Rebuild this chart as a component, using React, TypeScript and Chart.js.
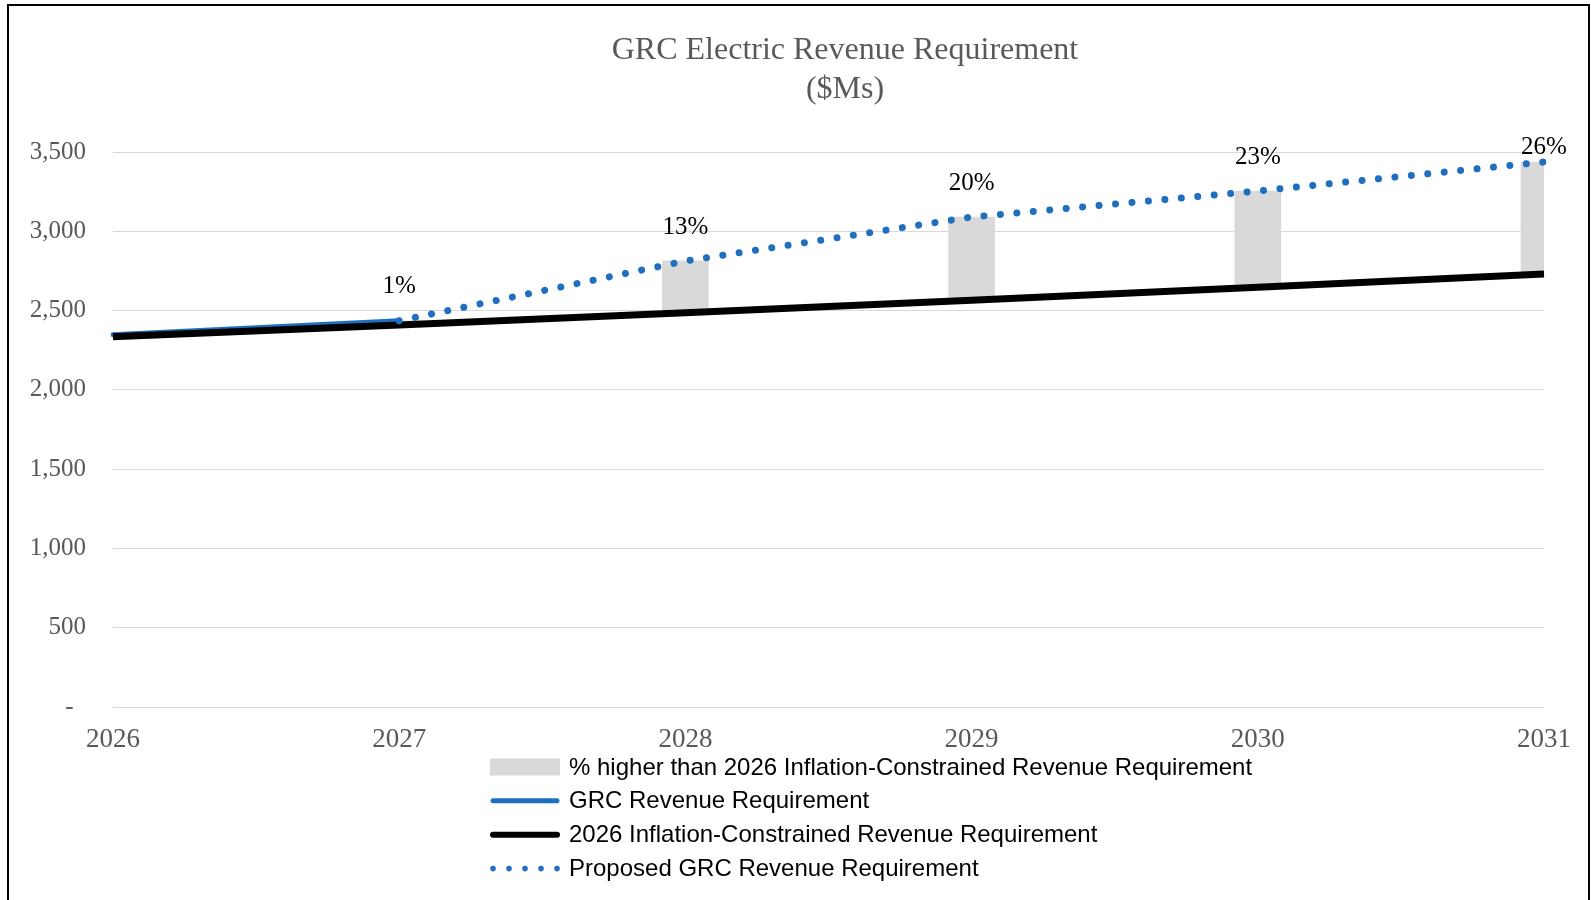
import React, { useEffect, useRef } from "react";
import { Chart, registerables } from "chart.js";

Chart.register(...registerables);

const years = ["2026", "2027", "2028", "2029", "2030", "2031"];
const grcRevenue = [2348, 2436, null, null, null, null];
const inflationConstrained = [2335, 2409, 2486, 2565, 2647, 2731];
const proposedGrc = [null, 2436, 2813, 3090, 3254, 3437];
const pctLabels = ["", "1%", "13%", "20%", "23%", "26%"];
const titleLines = ["GRC Electric Revenue Requirement", "($Ms)"];
const seriesNames = [
  "% higher than 2026 Inflation-Constrained Revenue Requirement",
  "GRC Revenue Requirement",
  "2026 Inflation-Constrained Revenue Requirement",
  "Proposed GRC Revenue Requirement",
];
const yMin = 0;
const yMax = 3500;
const yStep = 500;

const CW = 1579;
const CH = 894;
const SERIF = "'Liberation Serif', 'Times New Roman', serif";
const SANS = "'Liberation Sans', Arial, sans-serif";
const BLUE = "#1F6FC0";
const GRAY_BAR = "#D9D9D9";

const overlayPlugin = {
  id: "overlay",
  afterDatasetsDraw(chart: any) {
    const ctx = chart.ctx;
    const area = chart.chartArea;
    const xs = chart.scales.x;
    const ys = chart.scales.y;
    ctx.save();
    ctx.font = `25px ${SERIF}`;
    ctx.fillStyle = "#000";
    ctx.textAlign = "center";
    ctx.textBaseline = "middle";
    pctLabels.forEach((lab, i) => {
      if (!lab || proposedGrc[i] == null) return;
      const w = ctx.measureText(lab).width;
      let x = xs.getPixelForValue(i);
      x = Math.min(x, chart.width - 4 - w / 2);
      const top = ys.getPixelForValue(proposedGrc[i] as number);
      const y = Math.max(top - 34, area.top - 5);
      ctx.fillText(lab, x, y);
    });
    ctx.restore();
  },
  afterDraw(chart: any) {
    const ctx = chart.ctx;
    ctx.save();
    // Title
    ctx.font = `32px ${SERIF}`;
    ctx.fillStyle = "#595959";
    ctx.textAlign = "center";
    ctx.textBaseline = "middle";
    ctx.fillText(titleLines[0], 836, 45);
    ctx.fillText(titleLines[1], 836, 84);

    // Legend
    const ds = chart.data.datasets;
    const rowY = [761, 794.8, 828.8, 862.6];
    const sx = 481;
    const ex = 551;
    ctx.textAlign = "left";
    ctx.font = `24px ${SANS}`;
    ds.forEach((d: any, i: number) => {
      const cy = rowY[i];
      if (d.type === "bar") {
        ctx.fillStyle = d.backgroundColor;
        ctx.fillRect(sx, cy - 8.5, ex - sx, 17);
      } else if (d.borderDash && d.borderDash.length) {
        ctx.fillStyle = d.borderColor;
        for (let k = 0; k < 5; k++) {
          ctx.beginPath();
          ctx.arc(sx + 3 + k * 16, cy, 2.8, 0, Math.PI * 2);
          ctx.fill();
        }
      } else {
        ctx.strokeStyle = d.borderColor;
        ctx.lineWidth = d.borderColor === "#000000" ? 6 : 5;
        ctx.lineCap = "round";
        ctx.beginPath();
        ctx.moveTo(sx + 3, cy);
        ctx.lineTo(ex - 3, cy);
        ctx.stroke();
      }
      ctx.fillStyle = "#000";
      ctx.fillText(d.label, 560, cy + 1);
    });
    ctx.restore();
  },
};

export default function App() {
  const ref = useRef<HTMLCanvasElement | null>(null);

  useEffect(() => {
    if (!ref.current) return;
    const barData = years.map((_, i) =>
      proposedGrc[i] == null ? null : [inflationConstrained[i], proposedGrc[i] as number]
    );
    const chart = new Chart(ref.current, {
      type: "bar",
      data: {
        labels: years,
        datasets: [
          {
            type: "bar",
            label: seriesNames[0],
            data: barData as any,
            backgroundColor: GRAY_BAR,
            borderWidth: 0,
            barThickness: 46,
            clip: 0,
            order: 10,
          } as any,
          {
            type: "line",
            label: seriesNames[1],
            data: grcRevenue,
            borderColor: BLUE,
            borderWidth: 5,
            borderCapStyle: "round",
            pointRadius: 0,
            tension: 0,
            spanGaps: false,
            order: 3,
          },
          {
            type: "line",
            label: seriesNames[2],
            data: inflationConstrained,
            borderColor: "#000000",
            borderWidth: 7,
            borderCapStyle: "butt",
            pointRadius: 0,
            tension: 0,
            order: 2,
          },
          {
            type: "line",
            label: seriesNames[3],
            data: proposedGrc,
            borderColor: BLUE,
            borderWidth: 7,
            borderDash: [0.01, 16.5],
            borderCapStyle: "round",
            pointRadius: 0,
            tension: 0,
            order: 1,
          },
        ],
      },
      options: {
        responsive: false,
        animation: false,
        devicePixelRatio: 1,
        layout: { padding: { left: 0, top: 146, right: 37, bottom: 0 } },
        plugins: {
          legend: { display: false },
          title: { display: false },
          tooltip: { enabled: false },
        },
        scales: {
          x: {
            type: "category",
            offset: false,
            grid: { display: false, drawTicks: false },
            border: { display: false },
            ticks: {
              font: { family: SERIF, size: 27, lineHeight: 1.2 },
              color: "#595959",
              padding: 17,
              maxRotation: 0,
              autoSkip: false,
            },
            afterFit: (s: any) => {
              s.height = CH - 701;
            },
          },
          y: {
            min: yMin,
            max: yMax,
            grid: { color: "#D9D9D9", lineWidth: 1, drawTicks: false },
            border: { display: false },
            ticks: {
              stepSize: yStep,
              font: { family: SERIF, size: 25 },
              color: "#595959",
              padding: 27,
              callback: (v: any) => (Number(v) === 0 ? "-  " : Number(v).toLocaleString("en-US")),
            },
            afterFit: (s: any) => {
              s.width = 104;
            },
          },
        },
      },
      plugins: [overlayPlugin],
    });
    return () => chart.destroy();
  }, []);

  return (
    <div
      style={{
        position: "absolute",
        left: 7,
        top: 4,
        width: CW + 4,
        height: CH + 2,
        borderTop: "2px solid #000",
        borderLeft: "2px solid #000",
        borderRight: "2px solid #000",
        borderBottom: "none",
        boxSizing: "border-box",
        background: "#fff",
        overflow: "hidden",
      }}
    >
      <canvas ref={ref} width={CW} height={CH} style={{ display: "block", width: CW, height: CH }} />
    </div>
  );
}
